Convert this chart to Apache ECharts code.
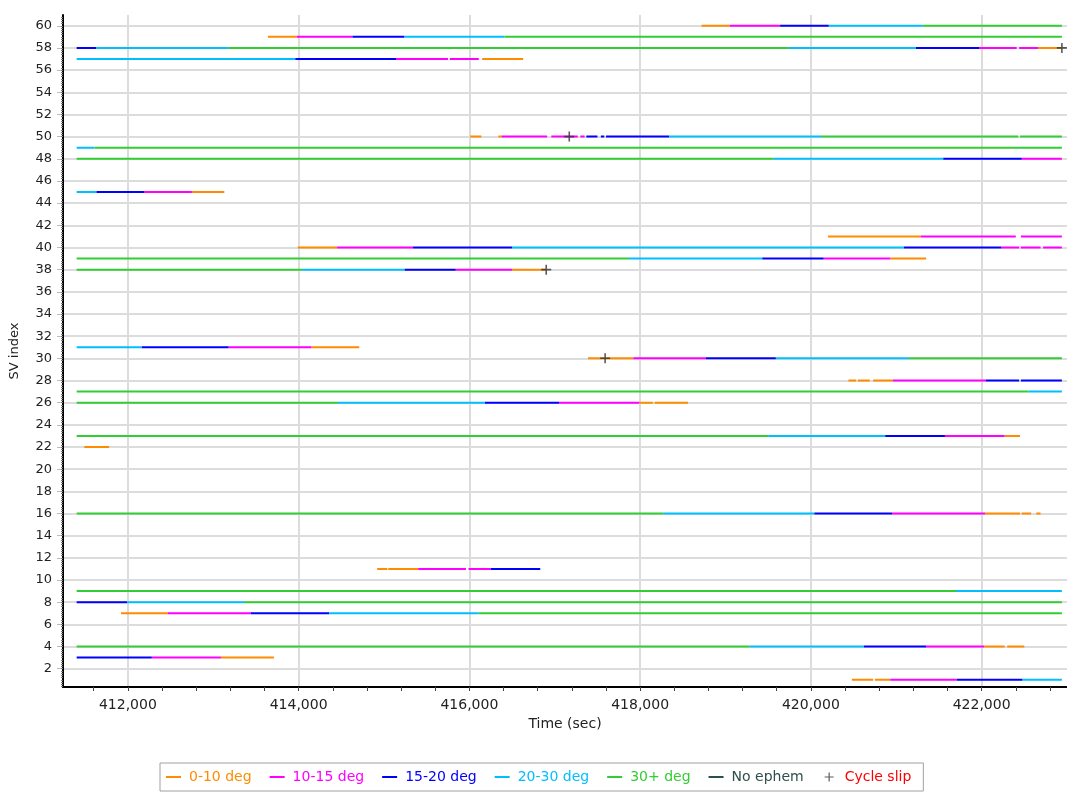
<!DOCTYPE html>
<html><head><meta charset="utf-8">
<script src="https://cdn.jsdelivr.net/npm/echarts@6/dist/echarts.min.js"></script>
<style>html,body{margin:0;padding:0;background:#fff}#c{width:1067px;height:794px}</style>
</head><body><div id="c"></div>
<script>
// ---- data ----
const xTickLabels = [412000, 414000, 416000, 418000, 420000, 422000];
const yTickLabels = [2,4,6,8,10,12,14,16,18,20,22,24,26,28,30,32,34,36,38,40,42,44,46,48,50,52,54,56,58,60];
const categories = ['0-10 deg', '10-15 deg', '15-20 deg', '20-30 deg', '30+ deg', 'No ephem'];
// segments: [SV index, start time, end time]
const seg0to10 = [
  [60,418720,419050],[59,413640,413980],[58,422660,422940],[57,416150,416630],
  [50,416010,416140],[50,416340,416380],[45,412750,413130],[41,420200,421290],
  [40,413990,414450],[39,420930,421350],[38,416500,416900],[31,414150,414710],
  [30,417390,417920],[28,420440,420530],[28,420550,420690],[28,420730,420960],
  [26,417990,418150],[26,418170,418560],[23,422270,422450],[22,411490,411780],
  [16,422040,422450],[16,422470,422580],[16,422640,422690],[11,414920,415040],
  [11,415050,415400],[7,411920,412470],[4,422030,422270],[4,422300,422500],
  [3,413090,413710],[1,420480,420730],[1,420750,420930]
];
const seg10to15 = [
  [60,419050,419640],[59,413980,414630],[58,421970,422410],[58,422440,422660],
  [57,415140,415750],[57,415770,416110],[50,416380,416910],[50,416960,417270],
  [50,417300,417350],[48,422470,422940],[45,412190,412750],[41,421290,422400],
  [41,422460,422940],[40,414450,415340],[40,422230,422440],[40,422460,422690],
  [40,422720,422940],[39,420150,420930],[38,415840,416500],[31,413180,414150],
  [30,417920,418770],[28,420960,422050],[26,417050,417990],[23,421570,422270],
  [16,420950,422040],[11,415400,415960],[11,415990,416250],[7,412470,413440],
  [4,421350,422030],[3,412280,413090],[1,420930,421710]
];
const seg15to20 = [
  [60,419640,420210],[59,414630,415240],[58,411400,411630],[58,421230,421970],
  [57,413960,415140],[50,417370,417500],[50,417540,417580],[50,417600,418340],
  [48,421550,422470],[45,411630,412190],[40,415340,416500],[40,421090,422230],
  [39,419430,420150],[38,415240,415840],[31,412160,413180],[30,418770,419590],
  [28,422050,422440],[28,422460,422940],[26,416180,417050],[23,420870,421570],
  [16,420040,420950],[11,416250,416830],[8,411400,411990],[7,413440,414360],
  [4,420620,421350],[3,411400,412280],[1,421710,422480]
];
const seg20to30 = [
  [60,420210,421310],[59,415240,416410],[58,411630,413180],[58,419740,421230],
  [57,411400,413960],[50,418340,420120],[49,411400,411610],[48,419560,421550],
  [45,411400,411630],[40,416500,421090],[39,417870,419430],[38,414040,415240],
  [31,411400,412160],[30,419590,421150],[27,422550,422940],[26,414460,416180],
  [23,419500,420870],[16,418270,420040],[9,421700,422940],[8,411990,413360],
  [7,414360,416110],[4,419280,420620],[1,422480,422940]
];
const seg30plus = [
  [60,421310,422940],[59,416410,422940],[58,413180,419740],[50,420120,422430],
  [50,422450,422940],[49,411610,422940],[48,411400,419560],[39,411400,417870],
  [38,411400,414040],[30,421150,422940],[27,411400,422550],[26,411400,414460],
  [23,411400,419500],[16,411400,418270],[9,411400,421700],[8,413360,422940],
  [7,416110,422940],[4,411400,419280]
];
const segNoEphem = [];
const cycleSlips = [[422940,58],[417170,50],[416900,38],[417590,30]];

// ---- styling ----
const FONT = 'DejaVu Sans';
const colors = ['#FF8C00', '#FF00FF', '#0000FF', '#00BFFF', '#32CD32', '#2F4F4F'];
const segs = [seg0to10, seg10to15, seg15to20, seg20to30, seg30plus, segNoEphem];

function toLine(list) {
  const d = [];
  list.forEach(s => { d.push([s[1], s[0]], [s[2], s[0]], ['-', '-']); });
  return d;
}
const minorX = [];
for (let v = 411600; v <= 422800; v += 400) minorX.push(v);
const minorY = [];
for (let v = 1; v <= 304; v++) minorY.push(v / 5);

const series = categories.map((name, i) => ({
  name, type: 'line', data: toLine(segs[i]), showSymbol: false, symbol: 'none',
  connectNulls: false, color: colors[i], lineStyle: { width: 2, color: colors[i] },
  animation: false, silent: true
}));
series.push({
  name: 'Cycle slip', type: 'scatter', data: cycleSlips,
  symbol: 'path://M4.2,0H5.8V10H4.2ZM0,4.2H10V5.8H0Z', symbolSize: 10,
  itemStyle: { color: '#333' }, z: 10, animation: false, silent: true
});

const lineIcon = 'path://M0,0h0.01v0.01h-0.01zM0,4h15v2h-15zM14.99,9.99h0.01v0.01h-0.01z';
const legendData = categories.map((n, i) => ({
  name: n, icon: lineIcon, itemStyle: { color: colors[i] }, textStyle: { color: colors[i] }
}));
legendData.push({
  name: 'Cycle slip', textStyle: { color: '#FF0000' }, itemStyle: { color: '#333' },
  icon: 'path://M0,0h0.01v0.01h-0.01zM6.9,0.5h1.2v9h-1.2zM3,4.4h9v1.2h-9zM14.99,9.99h0.01v0.01h-0.01z'
});

const axisFont = { fontFamily: FONT, fontSize: 13, color: '#222' };
const option = {
  backgroundColor: '#fff',
  animation: false,
  grid: { left: 63, right: 0, top: 15, bottom: 107 },
  xAxis: [{
    type: 'value', min: 411240, max: 423000,
    name: 'Time (sec)', nameLocation: 'middle', nameGap: 28,
    nameTextStyle: { fontFamily: FONT, fontSize: 14, color: '#222' },
    axisLine: { show: true, onZero: false, lineStyle: { color: '#000', width: 2 } },
    axisTick: { show: true, length: 4, customValues: xTickLabels, lineStyle: { color: '#444' } },
    axisLabel: { customValues: xTickLabels, margin: 11, ...axisFont, fontSize: 14,
      formatter: v => v.toLocaleString('en-US') },
    splitLine: { show: true, lineStyle: { color: '#dcdcdc', width: 2 } }
  }, {
    type: 'value', min: 411240, max: 423000, position: 'bottom',
    axisLine: { show: false }, axisLabel: { show: false }, splitLine: { show: false },
    axisTick: { show: true, length: 4, customValues: minorX, lineStyle: { color: '#444' } }
  }],
  yAxis: [{
    type: 'value', min: 0.35, max: 60.97,
    name: 'SV index', nameLocation: 'middle', nameGap: 42, nameRotate: 90,
    nameTextStyle: { fontFamily: FONT, fontSize: 13, color: '#222' },
    axisLine: { show: true, onZero: false, lineStyle: { color: '#000', width: 2 } },
    axisTick: { show: true, length: 6, customValues: yTickLabels, lineStyle: { color: '#bbb' } },
    axisLabel: { customValues: yTickLabels, margin: 11, ...axisFont },
    splitLine: { show: true, lineStyle: { color: '#dcdcdc', width: 2 } }
  }, {
    type: 'value', min: 0.35, max: 60.97, position: 'left',
    axisLine: { show: false }, axisLabel: { show: false }, splitLine: { show: false },
    axisTick: { show: true, length: 2, customValues: minorY, lineStyle: { color: '#777' } }
  }],
  legend: {
    left: 160, top: 763, orient: 'horizontal',
    itemWidth: 15, itemHeight: 10, itemGap: 18, padding: [7, 12, 7, 6],
    borderColor: '#a0a0a0', borderWidth: 1,
    textStyle: { fontFamily: FONT, fontSize: 14, padding: [0, 0, 0, 3] },
    selectedMode: false,
    data: legendData
  },
  series
};
const chart = echarts.init(document.getElementById('c'), null, { renderer: 'canvas' });
chart.setOption(option);
</script></body></html>
